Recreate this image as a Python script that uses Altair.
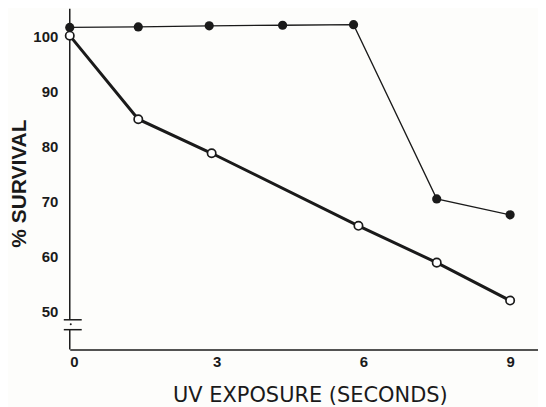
import altair as alt
import pandas as pd

# Data
filled_x = [0, 1.4, 2.85, 4.35, 5.8, 7.5, 9.0]
filled_y = [101.7, 101.8, 102.0, 102.1, 102.2, 70.5, 67.6]
open_x = [0, 1.4, 2.9, 5.9, 7.5, 9.0]
open_y = [100.2, 85.0, 78.8, 65.6, 58.9, 52.0]

x_ticks = [0, 3, 6, 9]
y_ticks = [50, 60, 70, 80, 90, 100]
x_domain = [0, 9.57]
y_domain = [43.1, 105.1]

# y-axis drawn with a break
axis_seg_top = [105.1, 46.7]
axis_seg_bottom = [48.5, 43.1]
break_marks = [48.5, 46.7]
break_dot = [47.7]

INK = "#1a1a1a"

filled_df = pd.DataFrame({"x": filled_x, "y": filled_y})
open_df = pd.DataFrame({"x": open_x, "y": open_y})
seg_df = pd.DataFrame({"y": axis_seg_top, "y2": axis_seg_bottom})
brk_df = pd.DataFrame({"y": break_marks})
dot_df = pd.DataFrame({"y": break_dot})

xscale = alt.Scale(domain=x_domain, nice=False, zero=False)
yscale = alt.Scale(domain=y_domain, nice=False, zero=False)

x_axis = alt.Axis(
    values=x_ticks, ticks=False, grid=False, domain=True,
    domainColor=INK, domainWidth=1.6, format="d",
    labelFont="Liberation Sans", labelFontWeight="bold", labelFontSize=15,
    labelColor=INK, labelPadding=5,
    title="UV EXPOSURE (SECONDS)", titleFont="DejaVu Sans",
    titleFontSize=21, titleFontWeight="normal", titleColor=INK,
    titleX=241, titleY=46, titleAlign="center", titleBaseline="middle",
)
y_axis = alt.Axis(
    values=y_ticks, ticks=False, grid=False, domain=False, format="d",
    labelFont="Liberation Sans", labelFontWeight="bold", labelFontSize=15,
    labelColor=INK, labelPadding=12,
    title="% SURVIVAL", titleFont="Liberation Sans",
    titleFontSize=21, titleFontWeight="bold", titleColor=INK,
    titleAngle=270, titleX=-50, titleY=175,
    titleAlign="center", titleBaseline="middle",
)

X = alt.X("x:Q", scale=xscale, axis=x_axis)
Y = alt.Y("y:Q", scale=yscale, axis=y_axis)

filled_line = alt.Chart(filled_df).mark_line(color=INK, strokeWidth=1.3).encode(x=X, y=Y)
filled_pts = alt.Chart(filled_df).mark_circle(color=INK, size=85, opacity=1).encode(x=X, y=Y)

open_line = alt.Chart(open_df).mark_line(color=INK, strokeWidth=3).encode(x=X, y=Y)
open_pts = alt.Chart(open_df).mark_circle(
    fill="white", stroke=INK, strokeWidth=1.7, size=70, opacity=1
).encode(x=X, y=Y)

axis_rule = alt.Chart(seg_df).mark_rule(color=INK, strokeWidth=1.5).encode(
    x=alt.value(0), y=Y, y2="y2:Q"
)
brk_rule = alt.Chart(brk_df).mark_rule(color=INK, strokeWidth=1.5).encode(
    x=alt.value(-6), x2=alt.value(12), y=Y
)
brk_dot = alt.Chart(dot_df).mark_circle(color=INK, size=4, opacity=1).encode(
    x=alt.value(1), y=Y
)

chart = alt.layer(
    axis_rule, brk_rule, brk_dot, filled_line, open_line, filled_pts, open_pts
).properties(
    width=470, height=342,
    autosize=alt.AutoSizeParams(type="none"),
    padding={"left": 62, "top": 0, "right": 0, "bottom": 57},
    background="#fdfdfb",
).configure_view(strokeWidth=0)

chart.save("out.html", embed_options={"renderer": "svg", "actions": False})
